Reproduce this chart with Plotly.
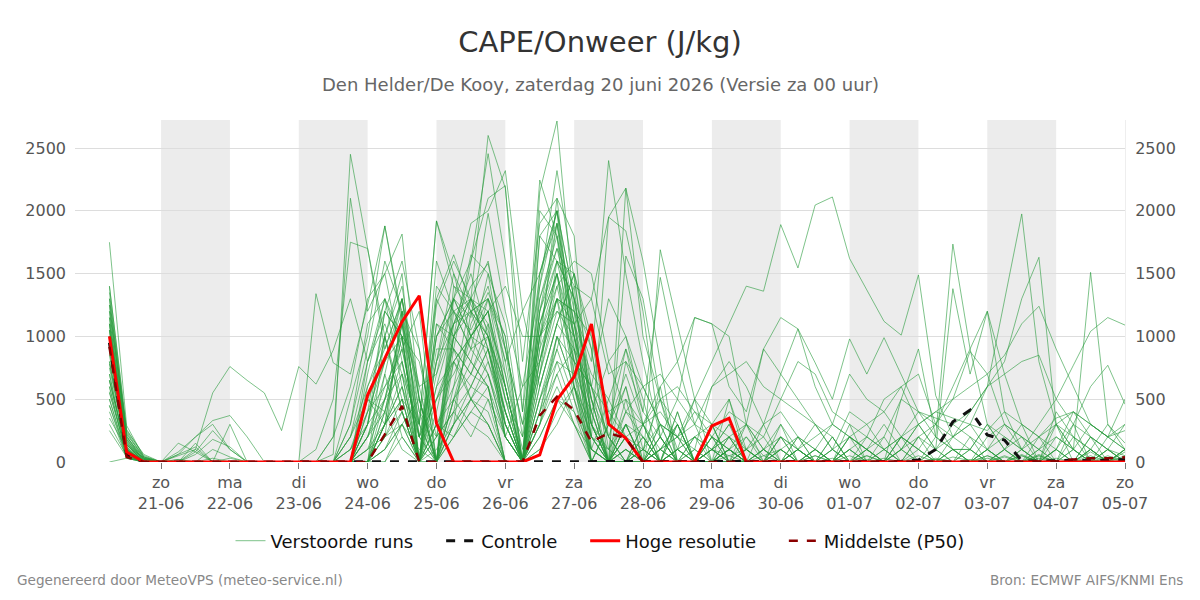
import pandas as pd
import plotly.graph_objects as go

# ---- data -------------------------------------------------------------
start_time = "2026-06-20 06:00"
n_steps = 60  # 6-hourly values up to 05-07 00:00

day_ticks = ["2026-06-21", "2026-06-22", "2026-06-23", "2026-06-24", "2026-06-25",
             "2026-06-26", "2026-06-27", "2026-06-28", "2026-06-29", "2026-06-30",
             "2026-07-01", "2026-07-02", "2026-07-03", "2026-07-04", "2026-07-05"]
day_names = ["zo", "ma", "di", "wo", "do", "vr", "za", "zo", "ma", "di", "wo", "do", "vr", "za", "zo"]
day_labels = ["21-06", "22-06", "23-06", "24-06", "25-06", "26-06", "27-06", "28-06",
              "29-06", "30-06", "01-07", "02-07", "03-07", "04-07", "05-07"]
shaded_days = ["2026-06-21", "2026-06-23", "2026-06-25", "2026-06-27",
               "2026-06-29", "2026-07-01", "2026-07-03"]

hres = [1000, 80, 0, 0, 0, 0, 0, 0, 0, 0,
        0, 0, 0, 0, 0, 533, 825, 1117, 1324, 308,
        0, 0, 0, 0, 0, 56, 494, 679, 1099, 302,
        189, 0, 0, 0, 0, 287, 348, 0, 0, 0,
        0, 0, 0, 0, 0, 0, 0, 0, 0, 0,
        0, 0, 0, 0, 0, 0, 0, 0, 0, 0]

control = [950, 60, 0, 0, 0, 0, 0, 0, 0, 0,
           0, 0, 0, 0, 0, 0, 0, 0, 0, 0,
           0, 0, 0, 0, 0, 0, 0, 0, 0, 0,
           0, 0, 0, 0, 0, 0, 0, 0, 0, 0,
           0, 0, 0, 0, 0, 0, 5, 15, 100, 320,
           414, 215, 175, 10, 5, 10, 15, 10, 15, 20]

p50 = [918, 40, 0, 0, 0, 0, 0, 0, 0, 0,
       0, 0, 0, 0, 0, 0, 220, 446, 0, 0,
       0, 0, 0, 0, 0, 370, 520, 414, 160, 230,
       190, 0, 0, 0, 0, 0, 0, 0, 0, 0,
       0, 0, 0, 0, 0, 0, 0, 0, 0, 0,
       0, 0, 0, 0, 0, 5, 20, 30, 30, 37]

members = [
    [1750,290,40,0,0,0,0,0,0,0, 0,0,0,60,2450,1700,900,1300,500,0, 600,1300,2600,2180,800,1900,2100,900,300,0, 200,0,100,300,0,0,50,100,0,0, 0,50,0,0,0,30,0,0,20,0, 0,50,0,0,30,0,0,20,0,0],
    [1350,200,30,0,20,0,0,0,0,0, 0,0,0,200,2100,1200,1500,800,200,0, 900,1600,2455,1600,400,2245,1800,600,100,500, 900,300,0,100,200,0,0,0,50,100, 0,0,30,0,0,0,10,0,0,40, 10,0,0,60,0,0,20,0,0,10],
    [1250,180,20,0,0,0,0,0,0,0, 0,0,100,500,1750,1700,1000,400,0,1000, 1300,1150,1980,1200,600,1400,2320,1450,600,200, 0,100,500,300,0,0,100,200,50,0, 100,0,0,0,50,0,0,0,30,0, 0,0,40,0,0,0,0,80,0,0],
    [900,120,10,0,50,100,550,760,650,550, 250,760,620,890,1300,800,1200,1600,900,0, 1000,1650,1500,1100,200,800,1500,1000,400,0, 300,0,0,100,0,0,100,0,0,0, 0,0,0,0,20,0,0,0,0,0, 0,30,0,0,0,0,0,50,0,0],
    [1100,150,0,0,0,0,0,0,0,0, 0,0,1340,790,700,1250,1880,1150,300,1920, 1400,1200,1300,600,0,1800,2000,1300,500,0, 0,200,0,0,100,0,0,0,0,100, 0,0,0,50,0,0,0,0,0,0, 20,0,0,0,60,0,0,0,30,0],
    [1050,130,30,0,0,100,0,30,0,0, 0,0,0,0,500,1000,1879,1100,600,700, 1100,1400,1580,900,300,1300,1700,1100,200,0, 0,0,200,0,0,100,50,0,0,0, 0,0,0,0,0,0,0,0,0,0, 0,0,0,0,0,30,0,0,0,80],
    [800,100,0,0,20,0,0,0,0,0, 0,0,0,200,600,1300,1500,1815,500,0, 300,1200,1000,200,0,2150,2715,1200,0,300, 900,500,0,400,0,100,0,0,0,0, 0,50,0,0,0,0,0,0,20,0, 0,0,0,0,0,0,0,0,0,40],
    [1200,250,60,0,0,0,0,0,0,0, 0,0,0,0,300,900,1600,1200,300,1919, 1500,1000,1200,1400,1000,1000,1300,1200,800,2400, 1500,800,200,0,0,0,0,0,100,0, 0,0,0,0,0,0,0,0,0,0, 0,0,0,50,0,0,0,0,0,0],
    [950,90,0,0,0,0,30,0,0,0, 0,0,0,0,200,500,800,1200,0,1300, 1650,1250,1000,600,0,900,2100,1800,300,0, 2180,1600,800,0,0,0,100,0,0,0, 0,0,0,0,0,0,0,0,0,0, 0,50,0,0,0,0,0,0,0,0],
    [700,60,0,0,0,0,0,0,0,0, 0,0,0,0,100,300,1200,1000,800,200, 1000,1300,1600,900,300,700,1200,1100,200,1950, 1840,1200,200,0,0,0,0,0,0,200, 0,0,0,0,0,0,0,0,0,0, 0,0,0,0,0,0,0,0,0,0],
    [600,50,0,0,0,0,0,0,0,0, 0,0,0,0,0,200,400,100,0,300, 200,500,800,400,0,300,1000,600,200,0, 300,200,0,100,500,800,1100,1400,1360,1890, 1545,2046,2110,1620,1370,1120,1010,1490,530,200, 100,0,50,0,0,100,0,0,0,0],
    [500,40,0,0,0,0,0,0,0,0, 0,0,0,0,0,0,300,500,0,0, 500,800,600,0,0,200,500,300,0,0, 0,0,300,0,0,0,100,0,0,200, 0,100,0,300,0,0,500,900,200,1735, 900,300,100,0,200,0,300,0,100,0],
    [1300,220,40,0,0,0,0,0,0,0, 0,0,0,0,0,400,600,900,1200,0, 400,1100,1400,800,1200,600,1100,1500,900,100, 0,0,100,200,0,0,0,100,200,0, 0,0,100,0,200,500,600,300,100,1380, 700,1200,400,100,0,300,0,200,100,50],
    [1100,160,20,0,0,0,0,0,0,0, 0,0,0,0,0,300,1000,400,0,700, 1300,1000,700,300,0,1000,1900,800,0,300, 600,0,0,100,0,300,0,0,0,100, 200,0,0,100,0,0,100,200,300,200, 300,600,1300,1975,800,300,100,0,200,100],
    [750,100,0,0,0,0,0,0,0,0, 0,0,0,0,0,200,500,700,300,0, 800,1000,1200,500,0,1100,1500,700,400,0, 400,300,100,0,200,100,300,100,0,0, 100,0,0,200,100,0,0,100,0,200, 400,600,800,1300,1630,300,200,100,0,100],
    [1000,140,0,0,0,0,0,0,0,0, 0,0,0,0,100,500,300,1100,0,1600, 1200,900,1500,700,0,1200,1600,1000,500,0, 100,0,0,300,0,0,100,0,0,0, 0,100,0,0,50,0,100,300,400,500, 600,700,850,1100,1240,900,600,300,200,100],
    [400,30,0,0,0,0,100,40,0,0, 0,0,0,0,0,0,200,400,0,100, 300,600,900,400,0,500,1000,600,0,0, 200,0,0,0,0,100,0,200,0,0, 0,0,200,0,0,100,0,0,100,0, 200,0,100,300,0,200,100,1510,300,100],
    [650,80,0,0,0,0,0,0,0,0, 0,0,0,0,0,0,700,200,0,500, 900,700,1100,200,600,800,1300,500,100,0, 0,100,0,0,200,300,0,0,100,0, 0,0,100,0,0,0,200,100,0,0, 100,300,200,100,300,500,770,1040,1150,1090],
    [850,110,0,0,0,0,0,0,0,0, 0,0,0,0,0,300,800,1300,400,0, 1200,1300,1100,700,100,1000,1400,800,300,0, 800,600,700,500,1150,1100,600,400,900,700, 500,300,200,0,100,300,100,0,200,100, 0,200,300,100,0,100,300,200,0,100],
    [1400,260,50,0,0,0,0,0,0,0, 0,0,0,0,200,800,1300,600,0,1100, 1000,800,1300,1000,0,1400,2000,1300,400,0, 1640,1300,500,0,0,0,0,0,100,0, 0,0,0,0,100,0,0,50,0,0, 0,100,0,0,0,0,100,0,50,0],
    [1000,100,0,0,0,0,0,0,0,0, 0,0,0,0,0,600,1000,500,0,300, 600,900,1000,500,200,1800,1600,1300,900,0, 100,0,1690,1100,500,300,0,0,0,200, 100,0,0,0,0,0,0,0,0,100, 0,0,100,0,50,0,0,0,0,0],
    [900,90,20,0,0,0,0,0,0,0, 0,0,0,0,0,100,500,900,300,1300, 1000,1300,1200,300,0,1000,1200,1000,400,800, 1000,400,1470,800,300,0,0,100,0,100, 0,0,100,0,0,0,0,0,0,0, 0,0,0,100,0,0,0,0,0,50],
    [1150,170,20,0,0,0,0,0,0,0, 0,0,0,0,0,0,200,1200,500,0, 1400,1300,900,300,0,700,1300,1200,1000,400, 200,300,600,800,1150,1100,1000,300,0,0, 100,0,0,0,0,200,0,0,0,0, 100,0,0,0,0,0,0,100,0,0],
    [1300,230,30,0,60,200,300,100,0,0, 0,0,0,0,300,1100,1300,900,200,800, 1300,1600,2100,2200,400,1500,2000,700,0,0, 300,0,0,0,0,300,500,100,0,0, 0,0,0,0,0,0,0,0,0,0, 0,0,100,0,0,0,0,0,0,100],
    [1000,150,20,0,0,150,0,0,0,0, 0,0,0,0,200,600,900,1300,200,1000, 1300,1900,2000,2320,1200,1500,2000,1000,300,100, 300,0,200,0,0,0,200,0,0,300, 0,100,0,0,0,0,0,0,0,0, 0,0,0,0,0,100,0,0,0,0],
    [650,90,0,0,80,200,330,370,200,0, 0,0,0,0,0,200,600,800,0,400, 1000,800,600,0,0,700,1600,1500,300,0, 0,0,200,0,0,0,500,0,0,0, 200,0,0,0,0,0,0,0,0,0, 0,0,0,50,0,0,0,0,0,0],
    [550,70,0,0,0,80,0,300,0,0, 0,0,0,0,0,0,300,600,200,0, 500,700,1000,600,0,1200,1900,1200,600,0, 0,0,0,400,0,200,0,0,0,0, 0,0,0,100,0,0,0,200,0,0, 0,0,0,0,0,0,0,100,0,0],
    [350,100,0,0,150,80,250,100,0,0, 0,0,0,0,0,300,500,1100,200,500, 800,500,300,0,0,600,1100,900,100,0, 100,0,100,0,0,0,0,0,0,0, 0,0,0,0,0,0,0,0,0,0, 0,0,0,0,0,0,0,0,0,0],
    [250,40,0,0,60,120,0,0,0,0, 0,0,0,0,0,100,300,600,0,200, 400,600,900,300,0,300,800,700,200,0, 0,100,0,0,0,100,300,0,0,0, 0,100,0,0,0,0,200,0,0,100, 100,0,0,0,0,0,0,0,100,0],
    [0,30,0,0,0,0,0,0,0,0, 0,0,0,0,0,0,100,300,100,0, 300,500,400,0,0,400,900,500,0,0, 0,200,0,0,0,0,100,0,0,0, 0,0,0,200,0,0,0,0,0,0, 0,0,0,0,0,0,0,0,0,0],
    [700,60,0,0,0,0,0,0,0,0, 0,0,0,0,0,0,400,1000,0,800, 1100,1200,800,300,0,500,900,1400,1300,700, 800,400,200,500,300,600,700,800,600,500, 800,700,400,300,200,100,200,100,0,100, 0,100,0,0,100,0,200,0,100,0],
    [1050,140,0,0,0,0,0,0,0,0, 0,0,0,0,0,0,300,500,0,900, 900,700,600,0,0,300,700,900,600,400, 500,300,400,200,400,300,200,100,300,400, 200,100,300,700,500,400,600,700,300,500, 880,700,300,200,100,300,400,200,100,300],
    [600,40,0,0,0,0,0,0,0,0, 0,0,0,0,0,0,0,300,500,0, 200,400,600,200,0,100,300,600,200,100, 400,600,300,200,100,600,800,600,300,700, 1060,790,500,980,700,990,690,400,200,100, 0,100,200,100,0,100,0,200,100,0],
    [450,30,0,0,0,0,0,0,0,0, 0,0,0,0,0,0,300,700,0,1100, 900,500,300,0,0,400,1000,800,600,200, 0,300,500,600,400,200,100,300,900,1150, 1060,600,300,200,100,0,100,300,100,200, 300,100,0,100,200,300,100,0,0,100],
    [800,100,0,0,0,60,180,120,0,0, 0,0,0,0,0,100,200,300,0,600, 800,600,500,200,0,500,800,400,100,0, 0,100,300,200,0,100,200,0,100,300, 100,200,300,200,100,200,500,400,300,600, 900,1200,700,300,200,100,400,300,200,500],
    [300,50,0,0,0,0,0,0,0,0, 0,0,0,0,0,0,100,400,0,300, 500,300,200,0,0,300,600,300,100,0, 0,0,100,0,0,100,200,300,100,0, 100,0,0,200,300,100,200,400,350,300, 400,600,700,800,850,500,300,600,770,460],
    [1250,200,30,0,0,0,0,0,0,0, 0,0,0,0,0,0,1000,1500,0,0, 1300,1000,900,200,0,900,1300,1100,500,0, 200,0,0,0,100,0,200,0,0,0, 0,0,0,0,100,0,0,0,0,0, 0,0,0,0,0,0,100,0,0,0],
    [1150,180,0,0,0,0,0,0,0,0, 0,0,0,0,0,0,400,800,200,500, 700,1000,1200,600,0,1500,1900,1100,1300,1950, 2180,1000,500,100,0,200,0,0,0,0, 0,0,200,0,0,0,0,0,0,0, 0,0,0,0,0,0,0,100,0,0],
    [950,120,0,0,0,0,0,0,0,0, 0,0,0,0,100,400,1200,1000,0,1250, 1600,1300,1050,500,0,1100,1600,1300,500,200, 600,100,0,0,0,0,0,0,0,0, 0,0,0,0,0,0,100,0,0,0, 0,0,0,0,0,0,0,0,0,0],
    [1200,210,0,0,0,0,0,0,0,0, 0,0,0,0,0,800,1100,700,0,1000, 1200,1050,1350,1000,0,800,1300,800,600,1300, 1000,600,300,0,0,0,100,0,0,100, 0,0,0,0,0,100,0,0,0,0, 0,0,0,0,100,0,0,0,0,0],
    [780,100,0,0,0,0,0,0,0,0, 0,0,0,0,0,200,700,1300,600,0, 1100,1500,1000,400,0,1000,1500,900,200,0, 0,300,0,0,0,0,0,100,0,0, 0,0,0,0,0,0,0,0,0,0, 0,100,0,0,0,0,0,0,0,0],
    [1050,160,0,0,0,0,0,0,0,0, 0,0,0,0,0,300,1000,1400,500,0, 1000,1200,1300,900,0,2000,1800,1000,0,0, 300,0,0,100,0,0,0,0,0,0, 0,0,0,100,0,0,0,0,0,0, 0,0,0,0,0,0,0,0,0,0],
    [880,110,0,0,0,0,0,0,0,0, 0,0,0,0,0,400,800,1000,0,1400, 1200,900,700,200,0,1300,1800,1100,700,500, 200,0,600,0,0,0,100,0,0,0, 100,0,0,0,0,0,0,0,0,0, 0,0,0,0,0,0,0,0,0,0],
    [1000,140,0,0,0,0,0,0,0,0, 0,0,0,0,0,0,500,1100,400,200, 800,1000,1200,600,0,800,1400,1600,1500,800, 400,200,0,300,0,200,100,0,0,0, 0,0,0,0,0,0,0,0,100,0, 0,0,0,0,0,0,0,0,0,0],
    [650,80,0,0,0,0,0,0,0,0, 0,0,0,0,0,0,300,1200,900,0, 500,1000,1300,800,0,600,1100,1500,1000,200, 0,0,300,200,500,0,0,0,0,0, 0,0,0,0,0,0,0,0,0,0, 0,0,0,0,0,0,0,100,0,0],
    [1100,190,20,0,0,0,0,0,0,0, 0,0,0,0,0,500,400,1000,0,600, 1100,1300,900,400,0,1200,1700,1400,100,0, 500,0,0,0,0,100,0,0,0,0, 0,0,0,0,0,0,0,0,0,0, 0,0,0,0,0,0,0,0,0,0],
    [500,50,0,0,0,0,0,0,0,0, 0,0,0,0,0,0,0,200,0,200, 400,200,500,0,0,100,400,600,300,0, 100,0,100,200,300,200,400,300,200,500, 400,300,100,400,300,400,200,300,400,350, 300,250,400,300,200,350,400,300,200,250],
    [450,60,0,0,0,0,0,0,0,0, 0,0,0,0,0,0,100,300,0,0, 200,400,300,0,0,200,500,400,0,0, 0,0,100,300,0,200,100,0,300,0, 200,100,0,100,200,100,0,200,100,300, 200,100,300,200,100,200,100,300,200,300],
    [560,70,0,0,0,0,0,0,0,0, 0,0,0,0,0,0,200,500,300,0, 300,500,700,200,0,400,700,300,0,0, 200,100,0,100,200,100,0,300,100,200, 100,300,100,200,100,0,200,100,300,100, 100,300,100,200,0,400,200,100,300,150],
    [1400,240,40,0,0,0,0,0,0,0, 0,0,0,0,0,700,1300,1000,0,800, 1500,1200,1000,400,0,1100,1500,600,0,300, 700,300,0,0,0,0,0,0,0,0, 0,0,0,0,0,0,0,0,0,0, 0,0,0,0,50,0,0,0,0,0],
]

for m in members:
    assert len(m) == n_steps, len(m)

# ---- figure -----------------------------------------------------------
times = pd.date_range(start_time, periods=n_steps, freq="6h")
FONT = "DejaVu Sans"
PAD = "\u00a0" * 4

fig = go.Figure()
for k, m in enumerate(members):
    fig.add_trace(go.Scatter(
        x=times, y=m, mode="lines", name="Verstoorde runs" + PAD,
        legendgroup="ens", showlegend=(k == 0),
        line=dict(color="rgba(40,155,60,0.6)", width=1),
        hoverinfo="skip"))

fig.add_trace(go.Scatter(x=times, y=control, mode="lines", name="Controle" + PAD,
                         line=dict(color="#111111", width=3, dash="dash")))
fig.add_trace(go.Scatter(x=times, y=hres, mode="lines", name="Hoge resolutie" + PAD,
                         line=dict(color="#ff0000", width=3)))
fig.add_trace(go.Scatter(x=times, y=p50, mode="lines", name="Middelste (P50)",
                         line=dict(color="#8b0000", width=2.5, dash="dash")))
# invisible helper so the right-hand axis is drawn
fig.add_trace(go.Scatter(x=times, y=p50, mode="lines", yaxis="y2", showlegend=False,
                         line=dict(width=0, color="rgba(0,0,0,0)"), hoverinfo="skip"))

for d in shaded_days:
    d0 = pd.Timestamp(d)
    fig.add_shape(type="rect", xref="x", yref="paper", x0=d0, x1=d0 + pd.Timedelta(days=1),
                  y0=0, y1=1, fillcolor="#ececec", line=dict(width=0), layer="below")

tick_text = [f"{n}<br>{l}" for n, l in zip(day_names, day_labels)]
y_range = [0, 2723]

fig.update_layout(
    width=1200, height=600,
    paper_bgcolor="white", plot_bgcolor="white",
    margin=dict(l=75, r=75, t=120, b=138),
    font=dict(family=FONT, color="#555555"),
    title=dict(text="CAPE/Onweer (J/kg)", x=0.5, xanchor="center", y=0.93, yanchor="middle",
               font=dict(size=29, color="#333333", family=FONT)),
    xaxis=dict(range=[pd.Timestamp("2026-06-19 18:00"), pd.Timestamp("2026-07-05 00:00")],
               tickmode="array", tickvals=[pd.Timestamp(t) for t in day_ticks], ticktext=tick_text,
               showgrid=False, zeroline=False, ticks="outside", ticklen=6, tickcolor="#777777",
               tickfont=dict(size=16, color="#555555"), showline=False),
    yaxis=dict(range=y_range, tickvals=[0, 500, 1000, 1500, 2000, 2500], showgrid=True,
               gridcolor="#dddddd", gridwidth=1, zeroline=False,
               tickfont=dict(size=16, color="#555555"), ticks="", ticklabelstandoff=8),
    yaxis2=dict(range=y_range, overlaying="y", side="right", matches="y",
                tickvals=[0, 500, 1000, 1500, 2000, 2500], showgrid=False, zeroline=False,
                tickfont=dict(size=16, color="#555555"), showline=True, linecolor="#eeeeee",
                ticklabelstandoff=6),
    legend=dict(orientation="h", x=0.5, xanchor="center", y=-0.231, yanchor="middle",
                font=dict(size=18, color="#111111", family=FONT), bgcolor="rgba(0,0,0,0)",
                itemwidth=30, traceorder="normal"),
    showlegend=True,
)

fig.add_annotation(text="Den Helder/De Kooy, zaterdag 20 juni 2026 (Versie za 00 uur)",
                   xref="paper", yref="paper", x=0.5, y=1.105, xanchor="center", yanchor="middle",
                   showarrow=False, font=dict(size=18, color="#666666", family=FONT))
fig.add_annotation(text="Gegenereerd door MeteoVPS (meteo-service.nl)",
                   xref="paper", yref="paper", x=-0.0571, y=-0.345, xanchor="left", yanchor="middle",
                   showarrow=False, font=dict(size=13.6, color="#888888", family=FONT))
fig.add_annotation(text="Bron: ECMWF AIFS/KNMI Ens",
                   xref="paper", yref="paper", x=1.057, y=-0.345, xanchor="right", yanchor="middle",
                   showarrow=False, font=dict(size=13.6, color="#888888", family=FONT))

fig.write_html("out.html")
